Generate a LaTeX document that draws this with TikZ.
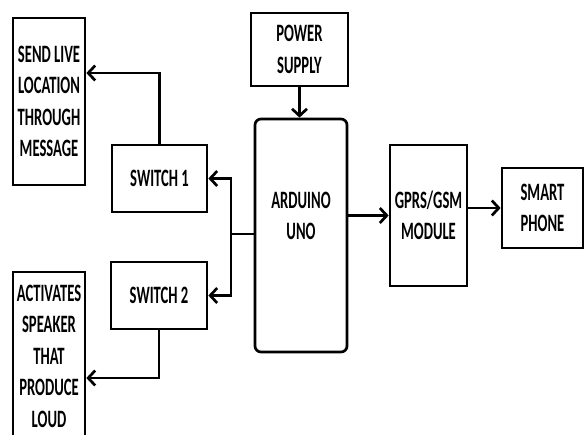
\documentclass[tikz,border=0pt]{standalone}
\usepackage{fontspec}
\setmainfont{Carlito}[FakeStretch=0.585]
\usetikzlibrary{arrows.meta, positioning}

\begin{document}
\begin{tikzpicture}[x=1pt, y=-1pt,
   lbl/.style={inner sep=0pt, align=center, font=\bfseries\fontsize{25}{31.5}\selectfont},
   blk/.style={lbl, draw, line width=2.7pt},
   arr/.style={-{Straight Barb[length=7pt, width=15pt]}, line width=2.7pt}]
   \useasboundingbox (0,0) rectangle (584,434);
   % Left side outputs
   \node[blk, minimum width=72pt, minimum height=167pt] (live) at (49,101.5) {SEND LIVE\\LOCATION\\THROUGH\\MESSAGE};
   \node[blk, minimum width=72pt, minimum height=168pt] (speaker) at (49,356) {ACTIVATES\\SPEAKER\\THAT\\PRODUCE\\LOUD};
   % Switches
   \node[blk, minimum width=95pt, minimum height=67pt] (sw1) at (159.5,178.5) {SWITCH 1};
   \node[blk, minimum width=96pt, minimum height=67pt] (sw2) at (159,295.5) {SWITCH 2};
   % Controller and supply
   \node[blk, minimum width=97pt, minimum height=73pt] (power) at (299.5,49.5) {POWER\\SUPPLY};
   \node[blk, rounded corners=6pt, minimum width=92pt, minimum height=233pt] (ard) at (301,235.5) {};
   \node[lbl] (ardtxt) at (301,216) {ARDUINO\\UNO};
   % Communication chain
   \node[blk, minimum width=77pt, minimum height=141pt] (gprs) at (428.5,215.5) {GPRS/GSM\\MODULE};
   \node[blk, minimum width=81pt, minimum height=80pt] (phone) at (542.5,208) {SMART\\PHONE};
   % Connectors
   \coordinate (jn) at (231,234);
   \draw[line width=2.7pt] (ard.west |- jn) -- (jn);
   \draw[arr] (jn) |- (sw1.east);
   \draw[arr] (jn) |- (sw2.east);
   \draw[arr] (sw1.north) |- ([yshift=28.5pt]live.east);
   \draw[arr] (sw2.south) |- ([yshift=-22pt]speaker.east);
   \draw[arr] (power.south) -- (power.south |- ard.north);
   \draw[arr] (ard.east |- gprs.west) -- (gprs.west);
   \draw[arr] (gprs.east |- phone.west) -- (phone.west);
\end{tikzpicture}
\end{document}
